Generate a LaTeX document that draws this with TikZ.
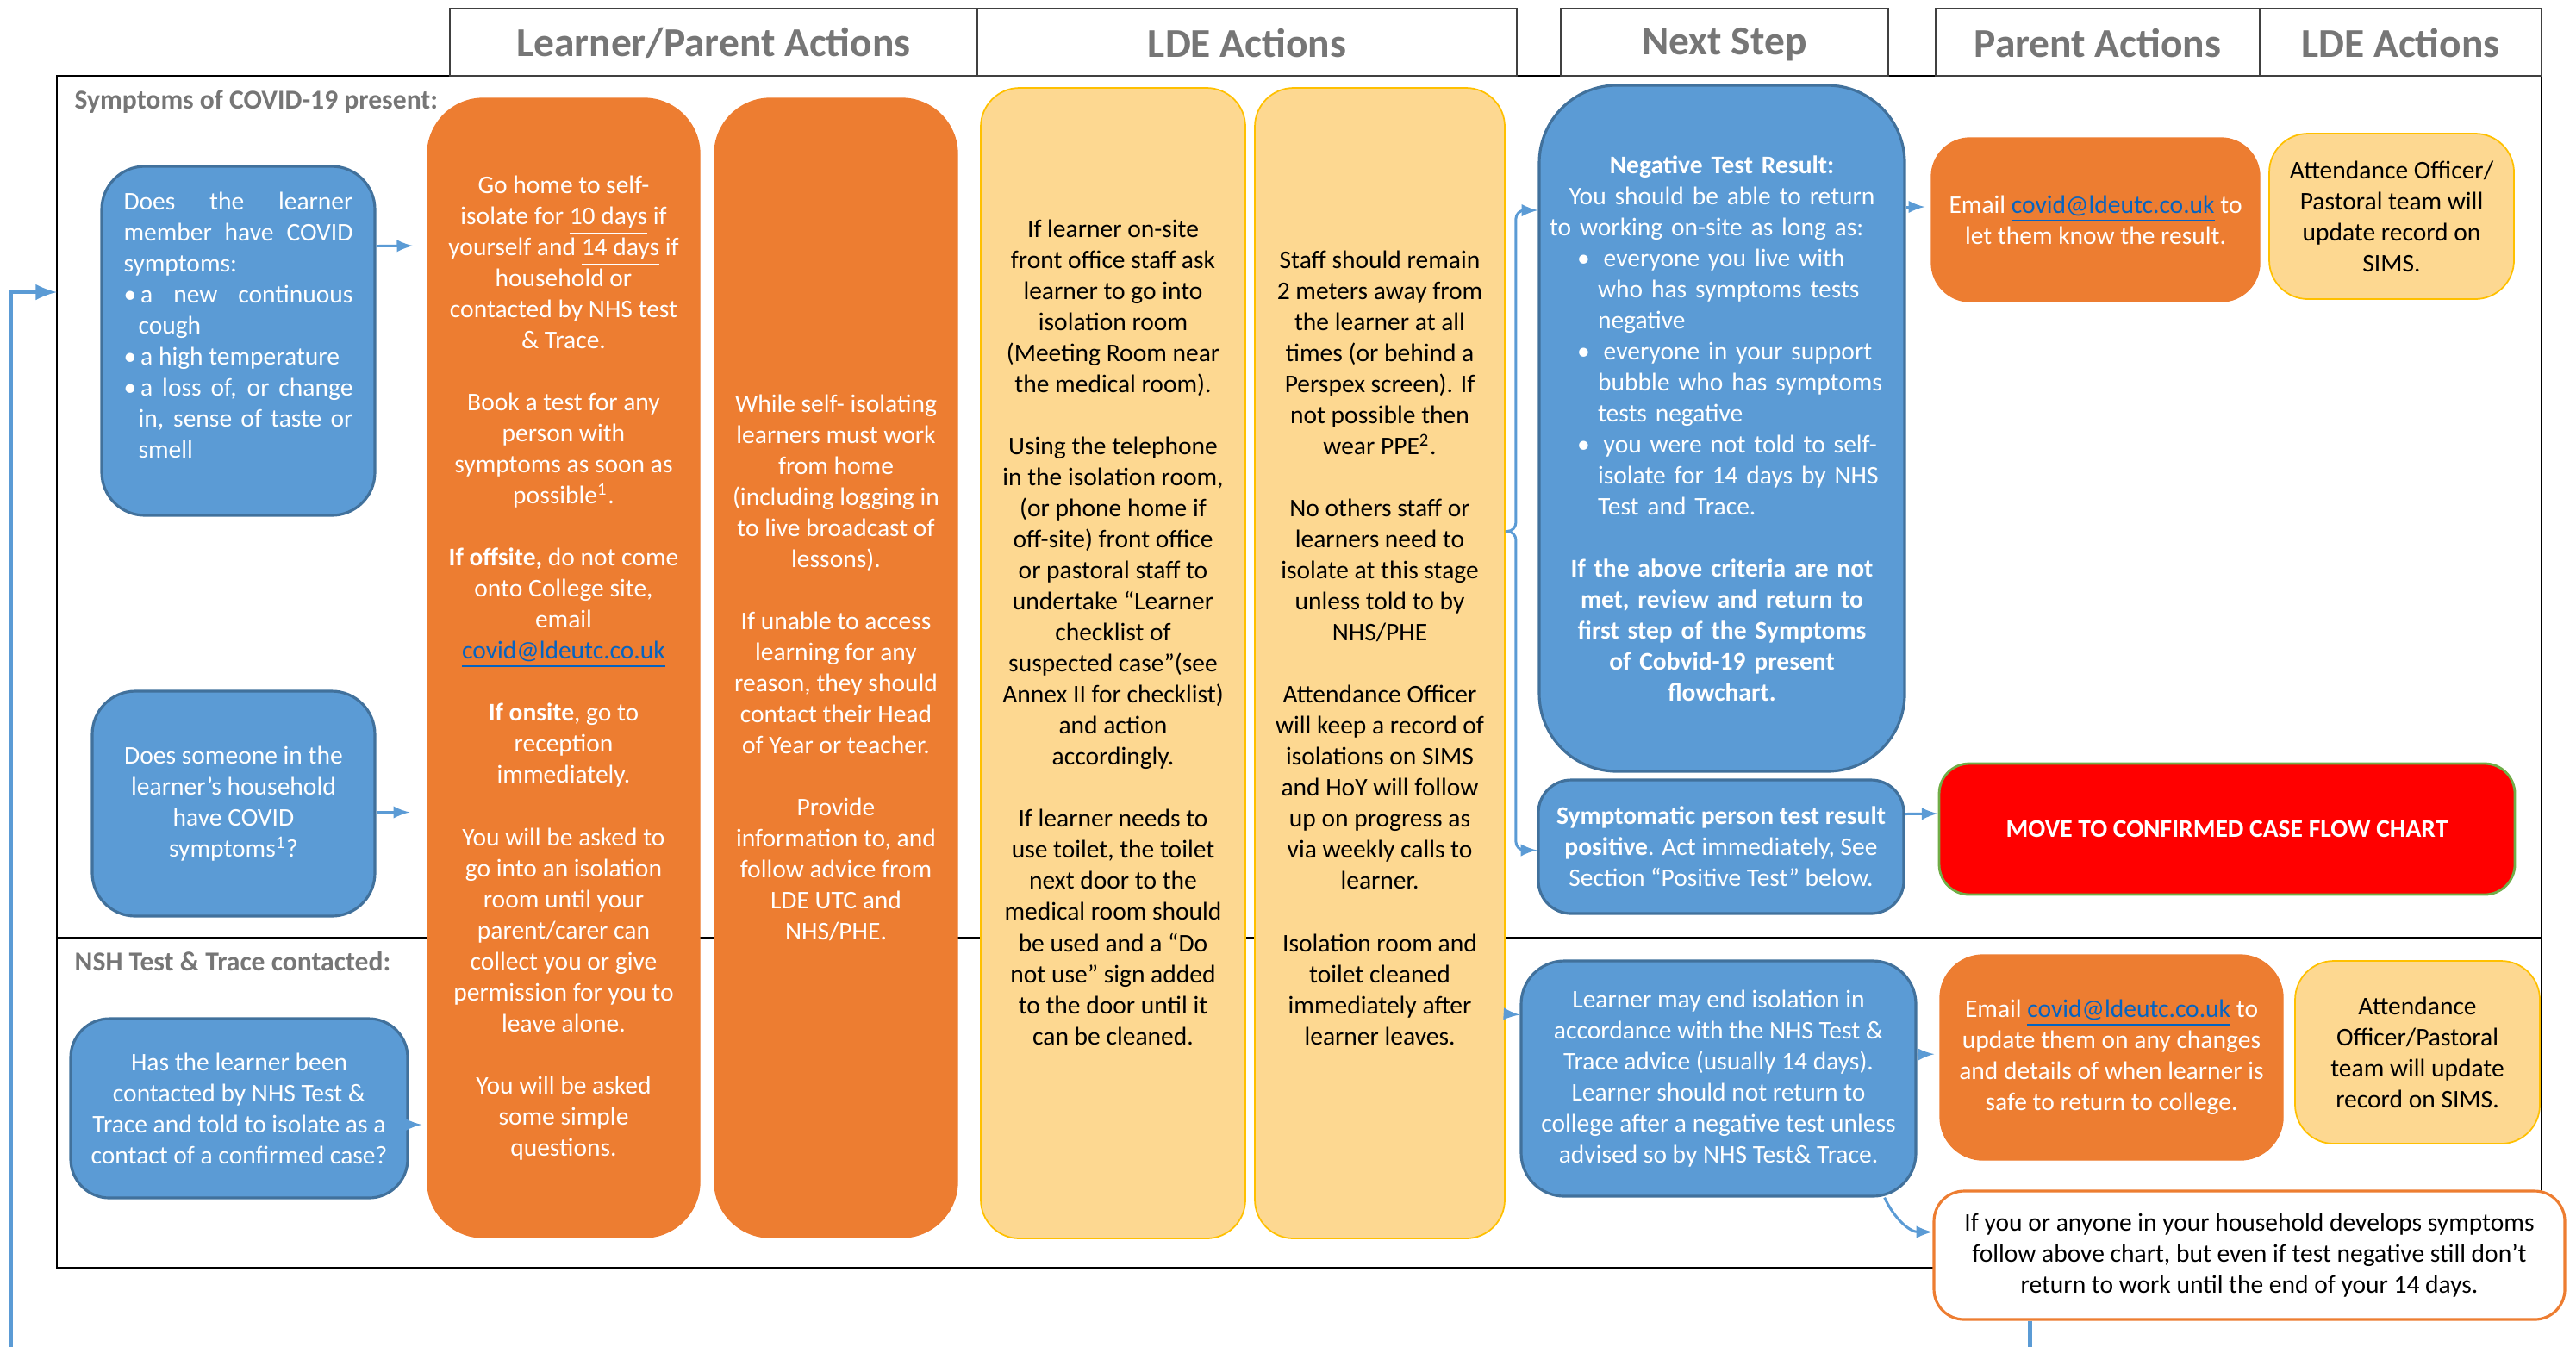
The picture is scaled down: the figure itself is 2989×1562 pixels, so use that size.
\documentclass[tikz,border=0pt]{standalone}
\usepackage{fontspec}
\setmainfont{Carlito}
\usepackage{enumitem}
\usetikzlibrary{calc}
\definecolor{boxblue}{HTML}{5B9BD5}
\definecolor{lineblue}{HTML}{41719C}
\definecolor{boxorange}{HTML}{ED7D31}
\definecolor{boxyellow}{HTML}{FDD891}
\definecolor{edgegold}{HTML}{FFC000}
\definecolor{edgegreen}{HTML}{70AD47}
\definecolor{headgray}{RGB}{118,118,118}
\definecolor{linkblue}{HTML}{0563C1}
\newcommand{\covidmail}{\textcolor{linkblue}{\underline{covid@ldeutc.co.uk}}}
\newcommand{\blankline}{\\[\baselineskip]}

\begin{document}
\begin{tikzpicture}[x=0.1mm, y=-0.1mm]
        \tikzstyle{head_box}=[draw=black!75, line width=0.6pt, fill=white, minimum height=7.8mm, text=headgray, font=\fontsize{13.5}{16}\selectfont\bfseries];
        \tikzstyle{sect_label}=[anchor=west, inner sep=0pt, text=headgray, font=\fontsize{9}{11}\selectfont\bfseries];
        \tikzstyle{blue_box}=[draw=lineblue, line width=0.9pt, fill=boxblue, text=white, align=center, font=\fontsize{8.4}{10.25}\selectfont];
        \tikzstyle{orange_box}=[draw=boxorange, fill=boxorange, text=white, align=center, font=\fontsize{8.4}{10.25}\selectfont];
        \tikzstyle{yellow_box}=[draw=edgegold, line width=0.5pt, fill=boxyellow, text=black, align=center, font=\fontsize{8.4}{10.25}\selectfont];
        \tikzstyle{myedge}=[line width=0.85pt, -latex, color=boxblue];
        \tikzstyle{loop_edge}=[line width=1.4pt, -latex, color=boxblue];

        \useasboundingbox (0,0) rectangle (2989,1562);

        % frame and divider
        \node[draw, line width=0.6pt, minimum width=288.3mm, minimum height=138.3mm, inner sep=0pt] (frame) at (1507.5,779.5) {};
        \draw[line width=0.6pt] (frame.west |- 0,1088) -- (frame.east |- 0,1088);
        \node[sect_label] (sym) at (86,118) {Symptoms of COVID-19 present:};
        \node[sect_label] (nsh) at (86,1115) {NSH Test \& Trace contacted:};

        % questions
        \node[blue_box, rounded corners=5mm, minimum width=31.7mm, minimum height=40.5mm, text width=26.6mm, align=justify] (q1) at (276.5,395.5) {\hyphenpenalty=10000 Does the learner member have COVID symptoms:
          \begin{itemize}[nosep, leftmargin=1.7mm, labelsep=0.5mm, labelwidth=1.2mm, align=left, label=\textbullet]
          \item a new continuous cough
          \item a high temperature
          \item a loss of, or change in, sense of taste or smell
          \end{itemize}
          \mbox{}};
        \node[blue_box, rounded corners=5mm, minimum width=32.8mm, minimum height=26.1mm] (q2) at (271,932.5) {Does someone in the\\ learner’s household\\ have COVID\\ symptoms\textsuperscript{1}?};
        \node[blue_box, rounded corners=4.5mm, minimum width=39.1mm, minimum height=20.8mm] (q3) at (277.5,1286) {Has the learner been\\ contacted by NHS Test \&\\ Trace and told to isolate as a\\ contact of a confirmed case?};

        % learner/parent actions
        \node[orange_box, rounded corners=6.5mm, minimum width=31.6mm, minimum height=132.2mm] (or1) at (654,775) {Go home to self-\\ isolate for \underline{10 days} if\\ yourself and \underline{14 days} if\\ household or\\ contacted by NHS test\\ \& Trace.\blankline
          Book a test for any\\ person with\\ symptoms as soon as\\ possible\textsuperscript{1}.\blankline
          \textbf{If offsite,} do not come\\ onto College site,\\ email\\ \covidmail\blankline
          \textbf{If onsite}, go to\\ reception\\ immediately.\blankline
          You will be asked to\\ go into an isolation\\ room until your\\ parent/carer can\\ collect you or give\\ permission for you to\\ leave alone.\blankline
          You will be asked\\ some simple\\ questions.};
        \node[orange_box, rounded corners=6.5mm, minimum width=28.2mm, minimum height=132.2mm] (or2) at (970,775) {While self- isolating\\ learners must work\\ from home\\ (including logging in\\ to live broadcast of\\ lessons).\blankline
          If unable to access\\ learning for any\\ reason, they should\\ contact their Head\\ of Year or teacher.\blankline
          Provide\\ information to, and\\ follow advice from\\ LDE UTC and\\ NHS/PHE.};

        % LDE actions
        \node[yellow_box, rounded corners=4.5mm, minimum width=30.7mm, minimum height=133.5mm] (ly1) at (1291.5,769.5) {If learner on-site\\ front office staff ask\\ learner to go into\\ isolation room\\ (Meeting Room near\\ the medical room).\blankline
          Using the telephone\\ in the isolation room,\\ (or phone home if\\ off-site) front office\\ or pastoral staff to\\ undertake “Learner\\ checklist of\\ suspected case”(see\\ Annex II for checklist)\\ and action\\ accordingly.\blankline
          If learner needs to\\ use toilet, the toilet\\ next door to the\\ medical room should\\ be used and a “Do\\ not use” sign added\\ to the door until it\\ can be cleaned.\\ \mbox{}\\ \mbox{}};
        \node[yellow_box, rounded corners=4.5mm, minimum width=29mm, minimum height=133.5mm] (ly2) at (1601,769.5) {Staff should remain\\ 2 meters away from\\ the learner at all\\ times (or behind a\\ Perspex screen). If\\ not possible then\\ wear PPE\textsuperscript{2}.\blankline
          No others staff or\\ learners need to\\ isolate at this stage\\ unless told to by\\ NHS/PHE\blankline
          Attendance Officer\\ will keep a record of\\ isolations on SIMS\\ and HoY will follow\\ up on progress as\\ via weekly calls to\\ learner.\blankline
          Isolation room and\\ toilet cleaned\\ immediately after\\ learner leaves.\\ \mbox{}};

        % next step
        \node[blue_box, rounded corners=9mm, minimum width=42.4mm, minimum height=79.6mm, text width=40mm] (neg) at (1998,497) {\textbf{Negative Test Result:}\\ You should be able to return\\ to working on-site as long as:
          \begin{itemize}[nosep, before=\raggedright, leftmargin=5.6mm, labelsep=1.6mm, labelwidth=0.8mm, align=left, label=\textbullet]
          \item everyone you live with\\ who has symptoms tests\\ negative
          \item everyone in your support\\ bubble who has symptoms\\ tests negative
          \item you were not told to self-\\ isolate for 14 days by NHS\\ Test and Trace.
          \end{itemize}
          \mbox{}\\ \textbf{If the above criteria are not\\ met, review and return to\\ first step of the Symptoms\\ of Cobvid-19 present\\ flowchart.}};
        \node[blue_box, rounded corners=3.8mm, minimum width=42.4mm, minimum height=15.5mm] (pos) at (1997,982.5) {\textbf{Symptomatic person test result}\\ \textbf{positive}. Act immediately, See\\ Section “Positive Test” below.};
        \node[blue_box, rounded corners=5mm, minimum width=45.8mm, minimum height=27.3mm] (endb) at (1994,1251.5) {Learner may end isolation in\\ accordance with the NHS Test \&\\ Trace advice (usually 14 days).\\ Learner should not return to\\ college after a negative test unless\\ advised so by NHS Test\& Trace.};

        % parent actions / LDE actions
        \node[orange_box, rounded corners=4.5mm, minimum width=38.1mm, minimum height=19mm] (em1) at (2431.5,255) {Email \covidmail{} to\\ let them know the result.};
        \node[yellow_box, rounded corners=4.5mm, minimum width=28.4mm, minimum height=19.2mm] (at1) at (2775,251) {Attendance Officer/\\ Pastoral team will\\ update record on\\ SIMS.};
        \node[draw=edgegreen, line width=0.8pt, fill=red, text=white, rounded corners=3.5mm, minimum width=66.8mm, minimum height=15.2mm, font=\fontsize{8.4}{10.25}\selectfont\bfseries] (red) at (2584,962) {MOVE TO CONFIRMED CASE FLOW CHART};
        \node[orange_box, rounded corners=5mm, minimum width=39.8mm, minimum height=23.8mm] (em2) at (2450,1227) {Email \covidmail{} to\\ update them on any changes\\ and details of when learner is\\ safe to return to college.};
        \node[yellow_box, rounded corners=4.5mm, minimum width=28.4mm, minimum height=21.2mm] (at2) at (2805,1221) {Attendance\\ Officer/Pastoral\\ team will update\\ record on SIMS.};
        \node[draw=boxorange, line width=0.9pt, fill=white, text=black, align=center, rounded corners=3.5mm, minimum width=73.2mm, minimum height=14.9mm, font=\fontsize{8.4}{10.25}\selectfont] (fb) at (2610,1456.5) {If you or anyone in your household develops symptoms\\ follow above chart, but even if test negative still don’t\\ return to work until the end of your 14 days.};

        % connectors
        \draw[myedge, shorten >=1.6mm] ($(q1.east)+(0,-110)$) -- ($(or1.west)+(0,-490)$);
        \draw[myedge, shorten >=2mm] ($(q2.east)+(0,10)$) -- ($(q2.east -| or1.west)+(0,10)$);
        \draw[myedge, shorten >=0.6mm] ($(q3.east)+(0,19)$) -- ($(q3.east -| or1.west)+(0,19)$);
        \draw[myedge, rounded corners=1mm] ($(ly2.east)+(0,-153)$) -- ++(12,0) |- ($(neg.west)+(0,-253)$);
        \draw[myedge, rounded corners=1mm] ($(ly2.east)+(0,-153)$) -- ++(12,0) |- ($(pos.west)+(0,4)$);
        \draw[myedge] ($(ly2.east)+(0,407)$) -- ($(endb.west)+(0,-74)$);
        \draw[myedge, shorten >=0.7mm] ($(neg.east)+(0,-257)$) -- ($(em1.west)+(0,-15)$);
        \draw[myedge] ($(pos.east)+(0,-38)$) -- ($(red.west)+(0,-18)$);
        \draw[myedge, shorten >=0.6mm] ($(endb.east)+(0,-28)$) -- ($(em2.west)+(0,-4)$);
        \draw[myedge] ($(endb.south east)+(-38,0)$) to[out=-65, in=180] ($(fb.west)+(0,-27)$);

        % back to the start
        \coordinate (loopin) at (66,339);
        \draw[loop_edge] ($(fb.south west)+(113,0)$) -- ++(0,150) -| (13,339) -- (loopin);

        % column heads
        \foreach \n/\x/\w/\t in {h1/828/61.2/{Learner/Parent Actions}, h2/1447/62.6/{LDE Actions}, h3/2001/38/{Next Step}, h4/2434/37.6/{Parent Actions}, h5/2785.5/32.7/{LDE Actions}}{
          \node[head_box, minimum width=\w mm, text height=3.6mm] (\n) at (\x,49) {\t};
        }
\end{tikzpicture}
\end{document}
